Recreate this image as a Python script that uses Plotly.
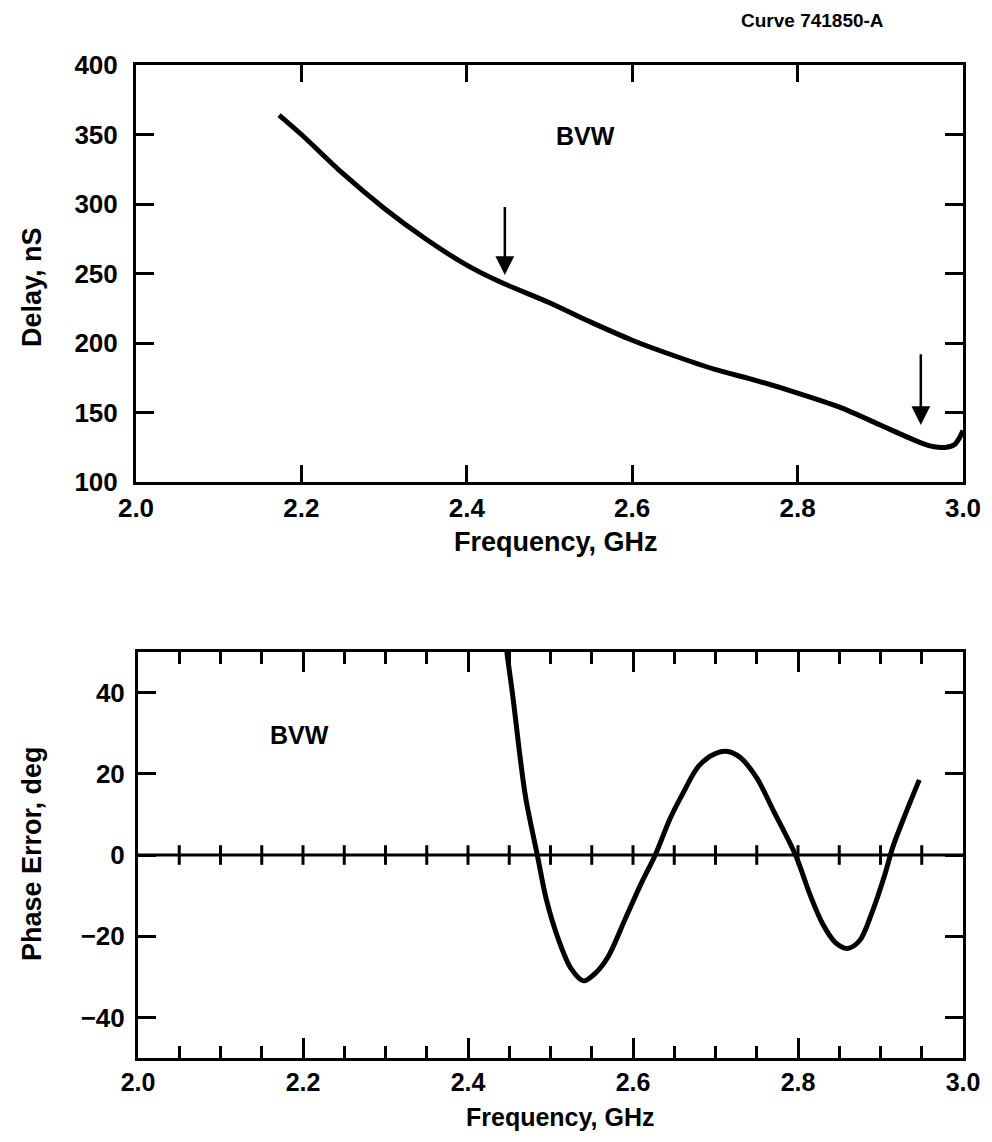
import numpy as np
import plotly.graph_objects as go

# ---------------- data ----------------
delay_freq = [2.173, 2.2, 2.25, 2.3, 2.35, 2.4, 2.44, 2.5, 2.55, 2.6, 2.65, 2.7, 2.75,
              2.8, 2.85, 2.9, 2.93, 2.95, 2.96, 2.97, 2.98, 2.99, 2.995, 3.0]
delay_ns = [364, 350, 322, 297, 275, 256, 244, 229, 215, 202, 191, 181, 173,
            164, 154, 141, 133, 128, 126, 125, 125, 127, 131, 137]

phase_freq = [2.447, 2.455, 2.462, 2.47, 2.484, 2.495, 2.51, 2.525, 2.54, 2.555, 2.57,
              2.59, 2.61, 2.627, 2.645, 2.66, 2.68, 2.7, 2.715, 2.73, 2.75, 2.77, 2.797,
              2.815, 2.83, 2.845, 2.86, 2.875, 2.89, 2.905, 2.915, 2.93, 2.947]
phase_deg = [50, 38, 26, 14, 0, -11, -21, -28, -31, -29, -25,
             -16, -7, 0, 9, 15, 22, 25, 25.5, 24, 19, 11, 0,
             -10, -17, -21.5, -23, -21, -14, -5, 2, 10, 18.5]

delay_ticks = [100, 150, 200, 250, 300, 350, 400]
phase_ticks = [-40, -20, 0, 20, 40]
phase_ticktext = ["\u221240", "\u221220", "0", "20", "40"]
freq_ticks = [2.0, 2.2, 2.4, 2.6, 2.8, 3.0]
freq_ticktext = ["2.0", "2.2", "2.4", "2.6", "2.8", "3.0"]
zero_ticks = [round(2.05 + 0.05 * i, 2) for i in range(19)]

arrow_freqs = [2.446, 2.949]
arrow_tails = [299, 193]
arrow_heads = [249, 141]

FONT = "Liberation Sans, Arial, sans-serif"
BLACK = "black"

fig = go.Figure()

fig.add_trace(go.Scatter(x=delay_freq, y=delay_ns, mode="lines",
                         line=dict(color=BLACK, width=5, shape="spline", smoothing=0.8),
                         xaxis="x", yaxis="y", showlegend=False, hoverinfo="skip"))

fig.add_trace(go.Scatter(x=zero_ticks, y=[0] * len(zero_ticks), mode="markers",
                         marker=dict(symbol="line-ns", size=14,
                                     line=dict(color=BLACK, width=3)),
                         xaxis="x2", yaxis="y2", showlegend=False, hoverinfo="skip"))

fig.add_trace(go.Scatter(x=phase_freq, y=phase_deg, mode="lines",
                         line=dict(color=BLACK, width=5, shape="spline", smoothing=0.9),
                         xaxis="x2", yaxis="y2", showlegend=False, hoverinfo="skip"))

# the page body has an 8px margin: figure is sized so it fits in the window
OFF = 8
W, H = 992 - 2 * OFF, 1142 - 2 * OFF

def px_x(p):
    return (p - OFF) / W
def px_y(p):
    return 1 - (p - OFF) / H
def dx(a, b):
    return [px_x(a), px_x(b)]
def dy(top, bottom):
    return [px_y(bottom), px_y(top)]

tickfont = dict(family=FONT, size=26, color=BLACK, weight="bold")
tickfont_small = dict(family=FONT, size=25, color=BLACK, weight="bold")

common_axis = dict(showline=True, linewidth=3, linecolor=BLACK, mirror="ticks",
                   ticks="inside", tickwidth=3, tickcolor=BLACK, showgrid=False,
                   zeroline=False, automargin=False, fixedrange=True)

fig.update_layout(
    width=W, height=H,
    margin=dict(l=0, r=0, t=0, b=0, autoexpand=False),
    paper_bgcolor="white", plot_bgcolor="white",
    xaxis=dict(domain=dx(136, 963), range=[2.0, 3.0], tickvals=freq_ticks,
               ticktext=freq_ticktext, ticklen=17, anchor="y", tickfont=tickfont,
               ticklabelstandoff=1, **common_axis),
    yaxis=dict(domain=dy(65, 482), range=[100, 400], tickvals=delay_ticks, ticklen=18,
               anchor="x", tickfont=tickfont, ticklabelstandoff=10, **common_axis),
    xaxis2=dict(domain=dx(138, 963), range=[2.0, 3.0], tickvals=freq_ticks,
                ticktext=freq_ticktext, ticklen=20, anchor="y2", tickfont=tickfont_small,
                minor=dict(dtick=0.05, tick0=2.0, ticks="inside", ticklen=12,
                           tickwidth=3, tickcolor=BLACK, showgrid=False),
                ticklabelstandoff=0, **common_axis),
    yaxis2=dict(domain=dy(652, 1058), range=[-50, 50], tickvals=phase_ticks,
                ticktext=phase_ticktext, ticklen=18, anchor="x2", tickfont=tickfont,
                ticklabelstandoff=5, **common_axis),
)

# zero line of the phase plot
fig.add_shape(type="line", xref="x2", yref="y2", x0=2.0, x1=3.0, y0=0, y1=0,
              line=dict(color=BLACK, width=3))

# arrows on delay plot
for f, t, h in zip(arrow_freqs, arrow_tails, arrow_heads):
    fig.add_annotation(x=f, y=h, ax=f, ay=t, xref="x", yref="y", axref="x", ayref="y",
                       showarrow=True, arrowhead=2, arrowsize=1.5, arrowwidth=2.5,
                       arrowcolor=BLACK, text="")

# axis titles and header
def paper_text(px, py, text, size, angle=0):
    fig.add_annotation(x=px_x(px), y=px_y(py), xref="paper", yref="paper", text=text,
                       showarrow=False, textangle=angle, xanchor="center", yanchor="middle",
                       font=dict(family=FONT, size=size, color=BLACK, weight="bold"))

paper_text(556, 542, "Frequency, GHz", 27)
paper_text(560, 1117, "Frequency, GHz", 25)
paper_text(32, 287, "Delay, nS", 27, -90)
paper_text(32, 854, "Phase Error, deg", 27, -90)
paper_text(812, 21, "Curve 741850-A", 19)

fig.add_annotation(x=2.543, y=349, xref="x", yref="y", text="BVW", showarrow=False,
                   font=dict(family=FONT, size=25, color=BLACK, weight="bold"))
fig.add_annotation(x=2.196, y=29.5, xref="x2", yref="y2", text="BVW", showarrow=False,
                   font=dict(family=FONT, size=25, color=BLACK, weight="bold"))

fig.write_html("out.html")
